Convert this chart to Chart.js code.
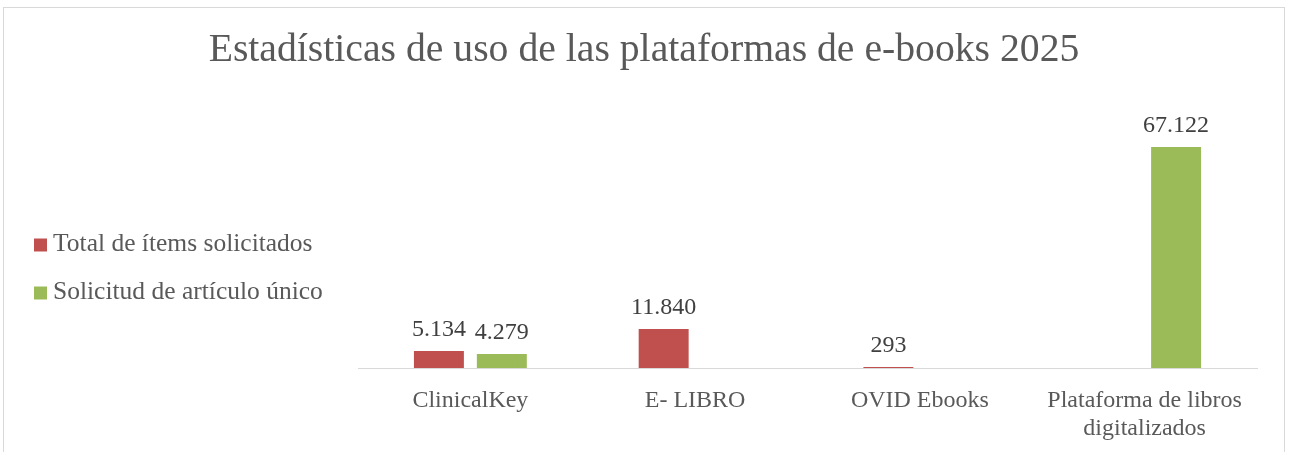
<!DOCTYPE html>
<html lang="es">
<head>
<meta charset="utf-8">
<script src="https://cdn.jsdelivr.net/npm/chart.js@4/dist/chart.umd.min.js"></script>
<style>
  html, body { margin: 0; padding: 0; background: #fff; overflow: hidden; }
  #frame {
    position: absolute;
    left: 3px;
    top: 7px;
    width: 1280px;
    height: 444px;
    border: 1px solid #d9d9d9;
  }
  #chart { display: block; }
</style>
</head>
<body>
<div id="frame"><canvas id="chart" width="1280" height="444"></canvas></div>
<script>
// data
const categories = ['ClinicalKey', 'E- LIBRO', 'OVID Ebooks', ['Plataforma de libros', 'digitalizados']];
const seriesNames = ['Total de ítems solicitados', 'Solicitud de artículo único'];
const totalItems = [5134, 11840, 293, null];
const uniqueItems = [4279, null, null, 67122];

const Colors = {
  red: '#C0504D',
  green: '#9BBB59',
  text: '#595959',
  label: '#404040',
  axis: '#d9d9d9',
};
const FONT = "'Liberation Serif', 'Times New Roman', serif";

// 67122 -> "67.122"
const fmt = (v) => String(v).replace(/\B(?=(\d{3})+(?!\d))/g, '.');

const valueLabels = {
  id: 'valueLabels',
  afterDatasetsDraw(chart) {
    const ctx = chart.ctx;
    ctx.save();
    ctx.font = `24px ${FONT}`;
    ctx.fillStyle = Colors.label;
    ctx.textAlign = 'center';
    ctx.textBaseline = 'middle';
    chart.data.datasets.forEach((ds, i) => {
      chart.getDatasetMeta(i).data.forEach((bar, j) => {
        const v = ds.data[j];
        if (v == null) return;
        ctx.fillText(fmt(v), bar.x, bar.y - 21);
      });
    });
    ctx.restore();
  },
};

// legend sits left of the plot, lower than the plot middle
const sideLegend = {
  id: 'sideLegend',
  afterDraw(chart) {
    const ctx = chart.ctx;
    const rows = [236.5, 284.5];
    ctx.save();
    ctx.font = `25.5px ${FONT}`;
    ctx.textBaseline = 'middle';
    chart.data.datasets.forEach((ds, i) => {
      const y = rows[i];
      ctx.fillStyle = ds.backgroundColor;
      ctx.fillRect(30, y - 6, 13, 13);
      ctx.fillStyle = Colors.text;
      ctx.fillText(ds.label, 49, y);
    });
    ctx.restore();
  },
};

// hidden axes only used to reserve space left/right of the plot
const spacer = (width, position) => ({
  type: 'linear',
  position,
  display: true,
  grid: { display: false, drawTicks: false },
  border: { display: false },
  ticks: { display: false },
  afterFit: (axis) => { axis.width = width; },
});

new Chart(document.getElementById('chart'), {
  type: 'bar',
  data: {
    labels: categories,
    datasets: [
      { label: seriesNames[0], data: totalItems, backgroundColor: Colors.red },
      { label: seriesNames[1], data: uniqueItems, backgroundColor: Colors.green },
    ],
  },
  options: {
    responsive: false,
    animation: false,
    events: [],
    categoryPercentage: 0.56,
    barPercentage: 0.794,
    layout: { padding: 0 },
    plugins: {
      legend: { display: false },
      tooltip: { enabled: false },
      title: {
        display: true,
        text: 'Estadísticas de uso de las plataformas de e-books 2025',
        color: Colors.text,
        font: { family: FONT, size: 39.7, weight: 'normal', lineHeight: 1.2 },
        padding: { top: 19, bottom: 30 },
      },
    },
    scales: {
      x: {
        grid: { display: false, drawTicks: false },
        border: { display: true, color: Colors.axis, width: 1 },
        ticks: {
          color: Colors.text,
          font: { family: FONT, size: 24, lineHeight: 1.2 },
          padding: 18,
          maxRotation: 0,
          autoSkip: false,
        },
        afterFit: (axis) => { axis.height = 84; },
      },
      y: { ...spacer(354, 'left'), min: 0, max: 80000 },
      yRight: spacer(27, 'right'),
    },
  },
  plugins: [valueLabels, sideLegend],
});
</script>
</body>
</html>
